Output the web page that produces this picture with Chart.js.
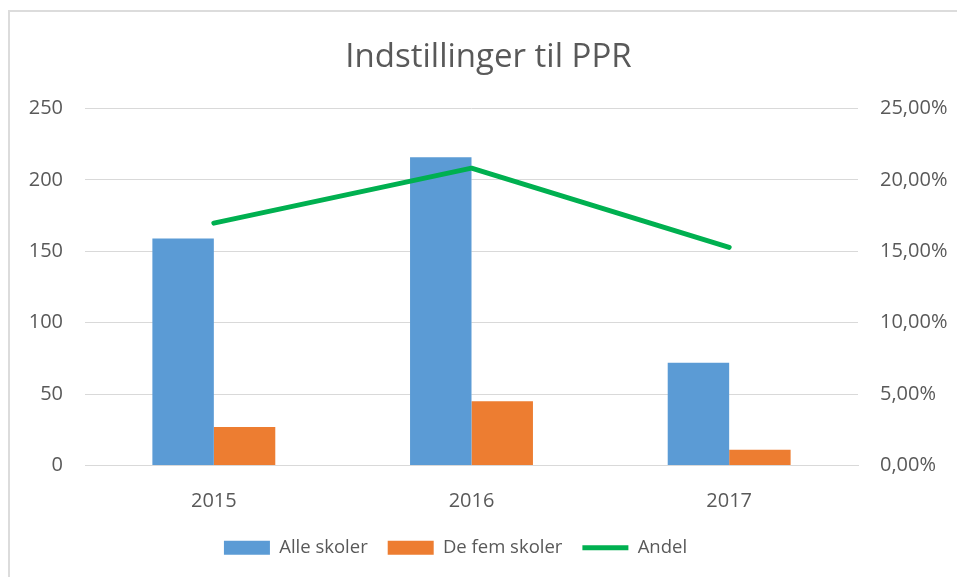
<!DOCTYPE html>
<html lang="da">
<head>
    <meta charset="UTF-8">
    <title>Indstillinger til PPR</title>
    <script src="https://cdn.jsdelivr.net/npm/chart.js"></script>
    <style>
        body { margin: 0; background: #fff; }
        #wrap { position: relative; width: 957px; height: 577px; }
        #frame { position: absolute; left: 8px; top: 10px; right: 0; bottom: 0;
                 border-top: 2px solid #dcdcdc; border-left: 2px solid #dcdcdc; }
        #myChart { position: absolute; left: 0; top: 0; }
    </style>
</head>
<body>
    <div id="wrap">
        <div id="frame"></div>
        <canvas id="myChart" width="957" height="577"></canvas>
    </div>
    <script>
        // verdier lest av figuren
        const years = ['2015', '2016', '2017'];
        const alleSkoler = [159, 216, 72];
        const deFemSkoler = [27, 45, 11];
        const andel = [0.1698, 0.2083, 0.1528];

        const grey = '#595959';
        const gridGrey = '#d9d9d9';
        const font = 'Open Sans';

        // flytt tittel og forklaring litt sidelengs, slik som i Excel-figuren
        const nudge = {
            id: 'nudge',
            afterLayout(chart) {
                chart.titleBlock.left += 10;
                chart.titleBlock.right += 10;
                chart.legend.left -= 23;
                chart.legend.right -= 23;
            }
        };

        const ctx = document.getElementById('myChart').getContext('2d');
        new Chart(ctx, {
            type: 'bar',
            data: {
                labels: years,
                datasets: [{
                    label: 'Alle skoler',
                    data: alleSkoler,
                    backgroundColor: '#5B9BD5',
                    pointStyle: 'rect',
                    yAxisID: 'y',
                    order: 1
                }, {
                    label: 'De fem skoler',
                    data: deFemSkoler,
                    backgroundColor: '#ED7D31',
                    pointStyle: 'rect',
                    yAxisID: 'y',
                    order: 1
                }, {
                    type: 'line',
                    label: 'Andel',
                    data: andel,
                    borderColor: '#00B050',
                    backgroundColor: '#00B050',
                    borderWidth: 5,
                    borderCapStyle: 'round',
                    borderJoinStyle: 'round',
                    pointRadius: 0,
                    pointStyle: 'line',
                    yAxisID: 'y1',
                    order: 0
                }]
            },
            options: {
                responsive: false,
                animation: false,
                layout: { padding: { left: 0, right: 0, top: 0, bottom: 10 } },
                datasets: {
                    bar: { barPercentage: 1, categoryPercentage: 0.477 }
                },
                scales: {
                    x: {
                        grid: { display: false },
                        border: { color: gridGrey },
                        ticks: { color: grey, font: { family: font, size: 20 }, padding: 16 },
                        afterFit: (s) => { s.height = 53; }
                    },
                    y: {
                        position: 'left',
                        min: 0,
                        max: 250,
                        ticks: { stepSize: 50, color: grey, font: { family: font, size: 20 }, padding: 22 },
                        grid: { color: gridGrey, drawTicks: false },
                        border: { display: false },
                        afterFit: (s) => { s.width = 85; }
                    },
                    y1: {
                        position: 'right',
                        min: 0,
                        max: 0.25,
                        ticks: {
                            stepSize: 0.05,
                            color: grey,
                            font: { family: font, size: 20 },
                            padding: 22,
                            callback: (v) => (v * 100).toFixed(2).replace('.', ',') + '%'
                        },
                        grid: { drawOnChartArea: false, drawTicks: false },
                        border: { display: false },
                        afterFit: (s) => { s.width = 99; }
                    }
                },
                plugins: {
                    title: {
                        display: true,
                        text: 'Indstillinger til PPR',
                        color: grey,
                        font: { family: font, size: 33, weight: '400', lineHeight: 1.2 },
                        padding: { top: 38, bottom: 31 }
                    },
                    legend: {
                        position: 'bottom',
                        labels: {
                            usePointStyle: true,
                            pointStyleWidth: 46,
                            boxHeight: 14,
                            padding: 20,
                            color: grey,
                            font: { family: font, size: 18.5 },
                            sort: (a, b) => a.datasetIndex - b.datasetIndex
                        }
                    },
                    tooltip: { enabled: false }
                }
            },
            plugins: [nudge]
        });
    </script>
</body>
</html>
